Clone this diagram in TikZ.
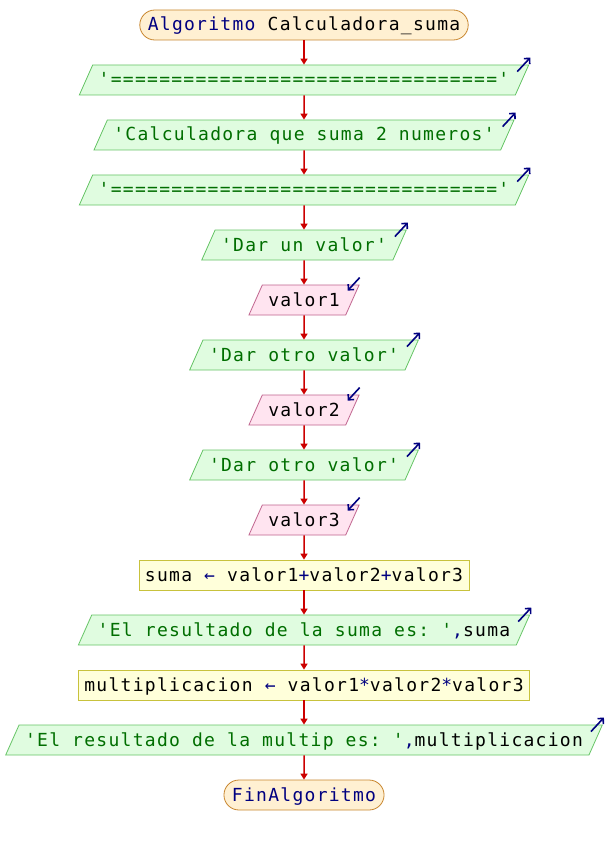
\documentclass[tikz,border=0pt]{standalone}
\usepackage{fontspec}
\setmonofont[LetterSpace=7.1]{DejaVu Sans Mono}
\usetikzlibrary{shapes.geometric,arrows.meta}

\definecolor{termfill}{HTML}{FFF0D2}
\definecolor{termline}{HTML}{C8862E}
\definecolor{outfill}{HTML}{E0FCE0}
\definecolor{outline}{HTML}{66C466}
\definecolor{outtext}{HTML}{006E00}
\definecolor{infill}{HTML}{FFE4F0}
\definecolor{inline}{HTML}{C0648E}
\definecolor{procfill}{HTML}{FFFFDA}
\definecolor{procline}{HTML}{C8C23C}
\definecolor{flechacol}{HTML}{CC0000}
\definecolor{kw}{HTML}{000080}

\begin{document}
\begin{tikzpicture}[x=1pt,y=-1pt,
    base/.style={font=\ttfamily\fontsize{18}{18}\selectfont, text height=15pt, text depth=3pt, inner ysep=6pt, line width=0.8pt},
    terminal/.style={base, draw=termline, fill=termfill, rounded corners=15pt, inner xsep=8pt},
    salida/.style={base, trapezium, trapezium left angle=66, trapezium right angle=114, draw=outline, fill=outfill, text=outtext, inner xsep=6pt},
    entrada/.style={base, trapezium, trapezium left angle=66, trapezium right angle=114, draw=inline, fill=infill, inner xsep=6pt},
    proceso/.style={base, draw=procline, fill=procfill, inner xsep=6pt},
    flecha/.style={draw=flechacol, line width=1.5pt, -{Triangle[width=7pt,length=6pt]}},
    icono/.style={draw=kw, line width=1.6pt, -{Straight Barb[width=8pt,length=4pt]}}]
  \useasboundingbox[fill=white] (0,0) rectangle (608,845);

  \node[terminal] (ini)     at (304,25)  {\textcolor{kw}{Algoritmo} \textcolor{black}{Calculadora\_suma}};
  \node[salida]   (sep1)    at (304,80)  {'================================'};
  \node[salida]   (titulo)  at (304,135) {'Calculadora que suma 2 numeros'};
  \node[salida]   (sep2)    at (304,190) {'================================'};
  \node[salida]   (dar1)    at (304,245) {'Dar un valor'};
  \node[entrada]  (val1)    at (304,300) {valor1};
  \node[salida]   (dar2)    at (304,355) {'Dar otro valor'};
  \node[entrada]  (val2)    at (304,410) {valor2};
  \node[salida]   (dar3)    at (304,465) {'Dar otro valor'};
  \node[entrada]  (val3)    at (304,520) {valor3};
  \node[proceso]  (suma)    at (304,575) {suma \textcolor{kw}{←} valor1\textcolor{kw}{+}valor2\textcolor{kw}{+}valor3};
  \node[salida]   (ressuma) at (304,630) {'El resultado de la suma es: '\textcolor{kw}{,}\textcolor{black}{suma}};
  \node[proceso]  (mult)    at (304,685) {multiplicacion \textcolor{kw}{←} valor1\textcolor{kw}{*}valor2\textcolor{kw}{*}valor3};
  \node[salida]   (resmult) at (304,740) {'El resultado de la multip es: '\textcolor{kw}{,}\textcolor{black}{multiplicacion}};
  \node[terminal] (fin)     at (304,795) {\textcolor{kw}{FinAlgoritmo}};

  \foreach \a/\b in {ini/sep1, sep1/titulo, titulo/sep2, sep2/dar1, dar1/val1, val1/dar2, dar2/val2,
      val2/dar3, dar3/val3, val3/suma, suma/ressuma, ressuma/mult, mult/resmult, resmult/fin}
    \draw[flecha] (\a) -- (\b);

  \foreach \n in {sep1, titulo, sep2, dar1, dar2, dar3, ressuma, resmult}
    \draw[icono] ([shift={(-12,7)}]\n.top right corner) -- ++(13,-14);
  \foreach \n in {val1, val2, val3}
    \draw[icono] ([shift={(0,-7)}]\n.top right corner) -- ++(-12,13);
\end{tikzpicture}
\end{document}
